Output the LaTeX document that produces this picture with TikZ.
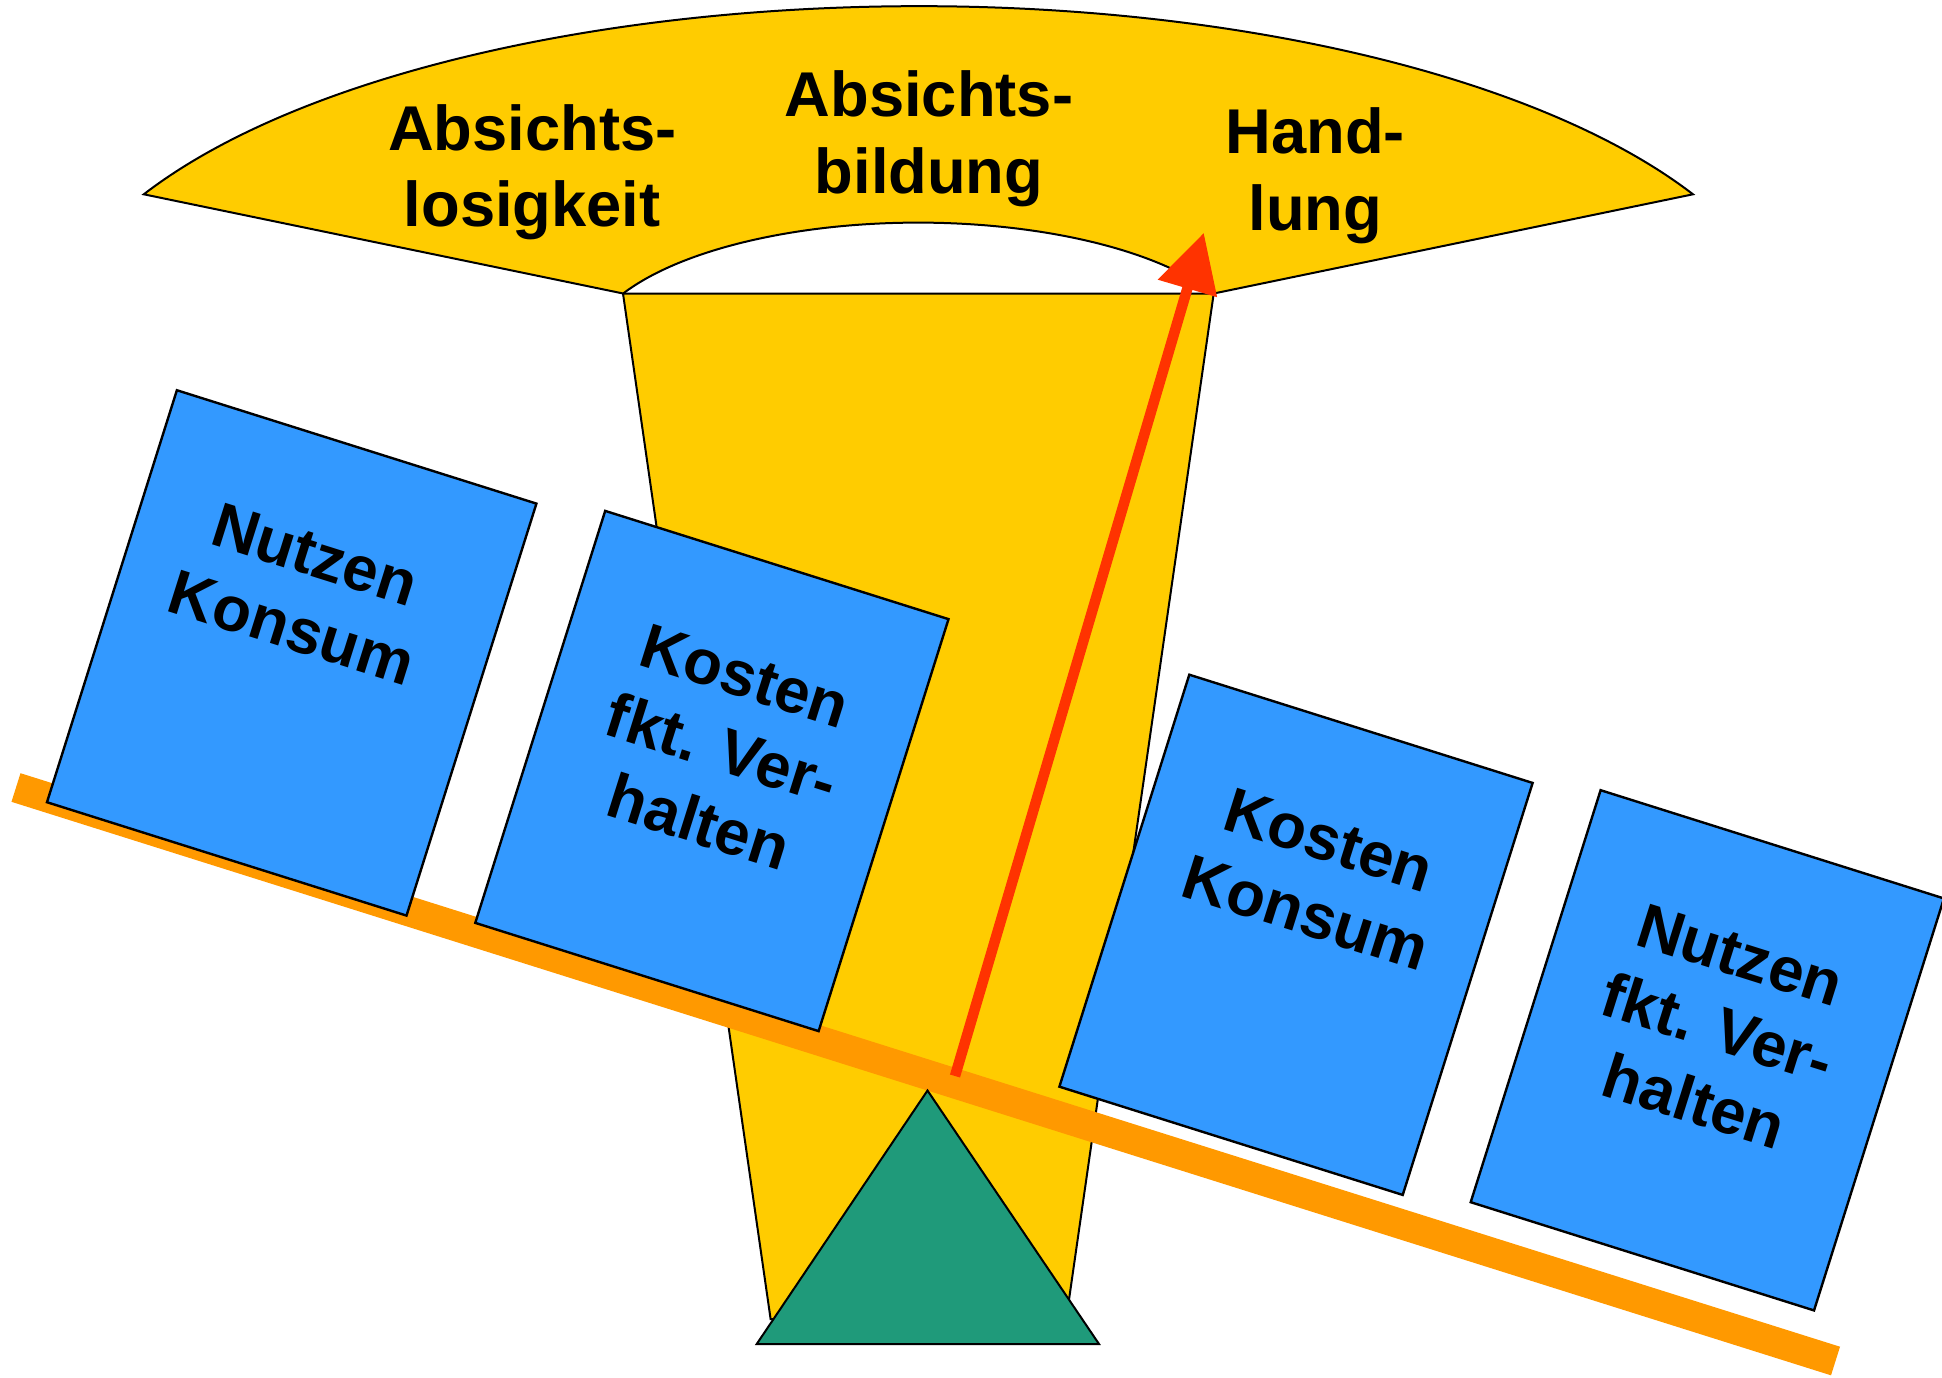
\documentclass[tikz,border=0pt]{standalone}
\usepackage{fontspec}
\setmainfont{Liberation Sans}
\usetikzlibrary{arrows.meta,calc}
\definecolor{fanyellow}{HTML}{FFCC00}
\definecolor{boxblue}{HTML}{3399FF}
\definecolor{beamorange}{HTML}{FF9900}
\definecolor{arrowred}{HTML}{FF3300}
\definecolor{baseteal}{HTML}{1F9A7A}
\begin{document}
\begin{tikzpicture}[x=1pt,y=-1pt,
  outline/.style={draw=black,line width=2pt},
  weight/.style={draw=black,line width=2.4pt,fill=boxblue,rotate=-17.5,
     minimum width=#1,minimum height=432pt,inner sep=0pt},
  weight/.default=360pt,
  fantext/.style={font=\bfseries\fontsize{63.3}{76.7}\selectfont,align=center,inner sep=0pt},
  boxtext/.style={fantext,rotate=-17.5},
]
\fill[white] (0,0) rectangle (1942,1377);
\useasboundingbox (0,0) rectangle (1942,1377);

% stem of the funnel
\draw[outline,fill=fanyellow] (623,293.5) -- (1213.7,293.5) -- (1066.2,1319) -- (770.6,1319) -- cycle;
% fan (block arc)
\draw[outline,fill=fanyellow] (143.8,194.3)
  arc[start angle=-152.6,end angle=-27.4,x radius=872.5,y radius=348.4]
  -- (1213.7,293.5)
  arc[start angle=-27.4,end angle=-152.6,x radius=332.6,y radius=131.3]
  -- cycle;

\node[fantext] (f1) at (532.2,172.3) {Absichts-\\losigkeit};
\node[fantext] (f2) at (929,139) {Absichts-\\bildung};
\node[fantext] (f3) at (1315.3,175.6) {Hand-\\lung};

% beam
\draw[beamorange,line width=30pt] (16,787.5) -- (1835.5,1361);
% fulcrum
\draw[outline,fill=baseteal] (927.5,1090.5) -- (1099,1344) -- (756.7,1344) -- cycle;

% weights
\node[weight=377pt] (b1) at (291.7,652.9) {};
\node[weight] (b2) at (711.9,771.0) {};
\node[weight] (b3) at (1296.0,934.8) {};
\node[weight] (b4) at (1707.3,1050.3) {};

\node[boxtext] (t1) at ($(b1.center)+(12,-61.5)$) {Nutzen\\Konsum};
\node[boxtext] (t2) at ($(b2.center)+(10.05,-21.9)$) {Kosten\\fkt. Ver-\\halten};
\node[boxtext] (t3) at ($(b3.center)+(21.5,-58.3)$) {Kosten\\Konsum};
\node[boxtext] (t4) at ($(b4.center)+(10.05,-21.9)$) {Nutzen\\fkt. Ver-\\halten};

% arrow
\coordinate (a0) at (955,1076);
\coordinate (a1) at (1203.8,232.8);
\draw[arrowred,line width=10.5pt,-{Triangle[length=58pt,width=59pt]}] (a0) -- (a1);
\end{tikzpicture}
\end{document}
